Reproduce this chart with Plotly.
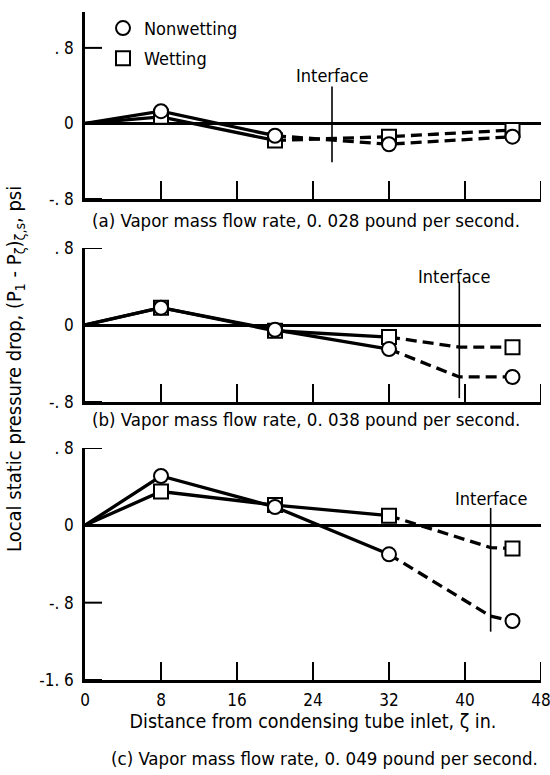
import plotly.graph_objects as go

# ---------------- data ----------------
x_pts = [0, 8, 20, 32, 45]          # distance from condensing tube inlet, in.

a_nonwet = [0, 0.13, -0.13, -0.22, -0.14]
a_wet    = [0, 0.07, -0.18, -0.14, -0.07]
b_nonwet = [0, 0.18, -0.05, -0.25, -0.54]
b_wet    = [0, 0.18, -0.06, -0.125, -0.23]
c_nonwet = [0, 0.51, 0.19, -0.30, -0.99]
c_wet    = [0, 0.35, 0.21, 0.10, -0.24]

# last point of the solid (measured) part of each curve
solid_end = [20, 32, 32]

# interface location and its vertical marker extent for each panel
interface_x = [26.0, 39.4, 42.7]
interface_top = [0.39, 0.45, 0.18]
interface_bottom = [-0.41, -0.76, -1.10]
# values of dashed curves at the interface (knee), None = straight
knee_nonwet = [None, -0.54, -0.94]
knee_wet = [None, -0.23, -0.23]
interface_label_xy = [(26.1, 0.51), (38.9, 0.50), (42.8, 0.28)]

captions = [
    "(a) Vapor mass flow rate, 0. 028 pound per second.",
    "(b) Vapor mass flow rate, 0. 038 pound per second.",
    "(c) Vapor mass flow rate, 0. 049 pound per second.",
]
series_names = ["Nonwetting", "Wetting"]
x_ticks = [0, 8, 16, 24, 32, 40, 48]
y_ticks = [[-0.8, 0, 0.8], [-0.8, 0, 0.8], [-1.6, -0.8, 0, 0.8]]
y_ticktext = [["-. 8", "0", ". 8"], ["-. 8", "0", ". 8"], ["-1. 6", "-. 8", "0", ". 8"]]
y_ranges = [[-0.8, 1.18], [-0.8, 0.8], [-1.6, 0.8]]
x_range = [0, 48]

x_title = "Distance from condensing tube inlet, ζ in."
y_title = "Local static pressure drop, (P<sub>1</sub> - P<sub>ζ</sub>)<sub>ζ,s</sub>, psi"

# ---------------- layout geometry (pixels) ----------------
W, H = 550, 775
FONT = "DejaVu Sans Condensed, Liberation Sans Narrow, DejaVu Sans, sans-serif"
X0_PX, X1_PX = 85, 541
x_dom = [X0_PX / W, X1_PX / W]
y_dom_px = [(12, 199), (248, 402), (448, 680)]
caption_y_px = [220, 419, 758]
caption_x_px = [306, 306, 324]
XTICK_LEN_PX, YTICK_LEN_PX = 18, 17

fig = go.Figure()
panels = [(a_nonwet, a_wet), (b_nonwet, b_wet), (c_nonwet, c_wet)]
symbols = ["circle", "square"]
LW = 3.3
MS = 14

for i, (nw, wt) in enumerate(panels):
    xa = "x" if i == 0 else f"x{i+1}"
    ya = "y" if i == 0 else f"y{i+1}"
    d0, d1 = y_dom_px[i]

    # inward tick marks, built from the tick lists through the axis scales
    y_per_px = (y_ranges[i][1] - y_ranges[i][0]) / (d1 - d0)
    x_per_px = (x_range[1] - x_range[0]) / (X1_PX - X0_PX)
    tx, ty = [], []
    for tv in x_ticks[1:]:
        tx += [tv, tv, None]
        ty += [y_ranges[i][0], y_ranges[i][0] + XTICK_LEN_PX * y_per_px, None]
    for tv in y_ticks[i]:
        tx += [x_range[0], x_range[0] + YTICK_LEN_PX * x_per_px, None]
        ty += [tv, tv, None]
    fig.add_trace(go.Scatter(x=tx, y=ty, mode="lines", line=dict(color="black", width=2),
                             cliponaxis=False, xaxis=xa, yaxis=ya,
                             showlegend=False, hoverinfo="skip"))

    k = x_pts.index(solid_end[i])
    for vals, knee in ((nw, knee_nonwet[i]), (wt, knee_wet[i])):
        fig.add_trace(go.Scatter(x=x_pts[:k + 1], y=vals[:k + 1], mode="lines",
                                 line=dict(color="black", width=LW),
                                 xaxis=xa, yaxis=ya, showlegend=False, hoverinfo="skip"))
        dx = list(x_pts[k:])
        dy = list(vals[k:])
        if knee is not None:
            dx = dx[:-1] + [interface_x[i]] + dx[-1:]
            dy = dy[:-1] + [knee] + dy[-1:]
        fig.add_trace(go.Scatter(x=dx, y=dy, mode="lines",
                                 line=dict(color="black", width=LW, dash="11px,6px"),
                                 xaxis=xa, yaxis=ya, showlegend=False, hoverinfo="skip"))
    fig.add_trace(go.Scatter(x=[interface_x[i], interface_x[i]],
                             y=[interface_top[i], interface_bottom[i]], mode="lines",
                             line=dict(color="black", width=1.6),
                             xaxis=xa, yaxis=ya, showlegend=False, hoverinfo="skip"))
    for vals, sym, name in ((wt, "square", "Wetting"), (nw, "circle", "Nonwetting")):
        fig.add_trace(go.Scatter(x=x_pts[1:], y=vals[1:], mode="markers", name=name,
                                 marker=dict(symbol=sym, size=MS, color="white",
                                             line=dict(color="black", width=2)),
                                 xaxis=xa, yaxis=ya, showlegend=False))
    lx, ly = interface_label_xy[i]
    fig.add_annotation(x=lx, y=ly, xref=xa, yref=ya, text="Interface", showarrow=False,
                       xanchor="center", yanchor="middle",
                       font=dict(size=18, family=FONT, color="black"))
    fig.add_annotation(x=caption_x_px[i] / W, y=1 - caption_y_px[i] / H, xref="paper",
                       yref="paper", text=captions[i], showarrow=False,
                       xanchor="center", yanchor="middle",
                       font=dict(size=18.5, family=FONT, color="black"))

    xkey = "xaxis" if i == 0 else f"xaxis{i+1}"
    ykey = "yaxis" if i == 0 else f"yaxis{i+1}"
    xdict = dict(domain=x_dom, range=x_range, anchor=ya, zeroline=False, automargin=False,
                 showgrid=False, showline=True, linecolor="black", linewidth=2.5,
                 tickmode="array", tickvals=x_ticks, ticks="",
                 showticklabels=(i == 2), ticklabeloverflow="allow",
                 ticklabelstandoff=3,
                 tickfont=dict(size=17, family=FONT, color="black"))
    if i == 2:
        xdict["title"] = dict(text=x_title, standoff=4,
                              font=dict(size=19.5, family=FONT, color="black"))
    ydict = dict(domain=[1 - d1 / H, 1 - d0 / H], range=y_ranges[i], anchor=xa,
                 automargin=False, ticklabeloverflow="allow",
                 showgrid=False, showline=True, linecolor="black", linewidth=2.5,
                 tickmode="array", tickvals=y_ticks[i], ticktext=y_ticktext[i],
                 ticks="", ticklabelstandoff=5,
                 zeroline=True, zerolinecolor="black", zerolinewidth=2.5,
                 tickfont=dict(size=17, family=FONT, color="black"))
    fig.update_layout({xkey: xdict, ykey: ydict})

# legend (drawn inside panel a)
leg_x = [4.0, 4.0]
leg_y = [1.01, 0.69]
for j, (sym, name) in enumerate(zip(symbols, series_names)):
    fig.add_trace(go.Scatter(x=[leg_x[j]], y=[leg_y[j]], mode="markers",
                             marker=dict(symbol=sym, size=MS, color="white",
                                         line=dict(color="black", width=2)),
                             xaxis="x", yaxis="y", showlegend=False, hoverinfo="skip"))
    fig.add_annotation(x=leg_x[j], y=leg_y[j], xref="x", yref="y", text=name,
                       xanchor="left", yanchor="middle", xshift=19, showarrow=False,
                       font=dict(size=18, family=FONT, color="black"))

fig.add_annotation(x=15 / W, y=1 - 369 / H, xref="paper", yref="paper", text=y_title,
                   textangle=-90, showarrow=False, xanchor="center", yanchor="middle",
                   font=dict(size=20, family=FONT, color="black"))

fig.update_layout(template="none", width=W, height=H,
                  margin=dict(l=0, r=0, t=0, b=0, pad=0, autoexpand=False),
                  paper_bgcolor="white", plot_bgcolor="white",
                  font=dict(family=FONT, color="black"), showlegend=False)

fig.write_html("out.html")
